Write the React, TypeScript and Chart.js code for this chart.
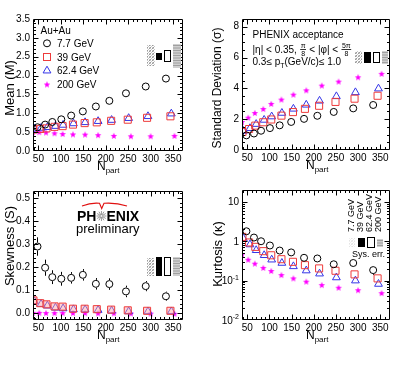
import React, { useEffect, useRef } from 'react';
import { Chart, registerables } from 'chart.js';
Chart.register(...registerables);

const W = 415;
const H = 370;
const FF = "'Liberation Sans', Arial, Helvetica, sans-serif";

// ---------- data ----------
const npart77 = [48, 65, 81, 101, 123, 149, 178, 208, 245, 289, 334];
const npart39 = [39, 54, 68, 86, 104, 127, 153, 180, 212, 249, 292, 344];
const npart62 = [41, 56, 70, 88, 105, 128, 154, 183, 213, 251, 294, 346];
const npart200 = [38, 52, 67, 86, 104, 127, 154, 183, 218, 256, 300, 353];

const mean77 = [0.63, 0.70, 0.77, 0.84, 0.94, 1.05, 1.18, 1.33, 1.53, 1.71, 1.92];
const mean39 = [0.57, 0.585, 0.60, 0.64, 0.66, 0.70, 0.74, 0.76, 0.80, 0.83, 0.88, 0.92];
const mean62 = [0.59, 0.61, 0.63, 0.66, 0.69, 0.73, 0.76, 0.79, 0.82, 0.87, 0.92, 0.99];
const mean200 = [0.50, 0.50, 0.49, 0.47, 0.45, 0.44, 0.435, 0.42, 0.40, 0.39, 0.39, 0.40];

const sd77 = [0.95, 1.07, 1.25, 1.42, 1.60, 1.82, 2.02, 2.22, 2.47, 2.70, 2.92];
const sd39 = [1.17, 1.36, 1.58, 1.80, 1.98, 2.23, 2.46, 2.67, 2.87, 3.12, 3.33, 3.52];
const sd62 = [1.23, 1.41, 1.68, 1.95, 2.17, 2.40, 2.67, 2.93, 3.19, 3.48, 3.74, 3.98];
const sd200 = [1.82, 2.10, 2.40, 2.66, 2.99, 3.27, 3.59, 3.87, 4.18, 4.44, 4.72, 4.94];

const skew77 = [0.289, 0.197, 0.156, 0.149, 0.153, 0.166, 0.127, 0.126, 0.094, 0.117, 0.073];
const skewErr77 = [0.04, 0.035, 0.03, 0.03, 0.025, 0.025, 0.025, 0.025, 0.025, 0.022, 0.02];
const skew39 = [0.055, 0.043, 0.038, 0.029, 0.028, 0.019, 0.019, 0.017, 0.015, 0.012, 0.010, 0.010];
const skew62 = [0.051, 0.039, 0.032, 0.023, 0.020, 0.016, 0.015, 0.013, 0.010, 0.007, 0.007, 0.007];
const skew200 = [0.001, 0.001, 0.0, 0.0, 0.0, 0.0, 0.0, -0.001, -0.001, -0.002, -0.002, -0.003];

const kurt77 = [1.79, 1.24, 1.0, 0.78, 0.58, 0.52, 0.38, 0.365, 0.26, 0.28, 0.185];
const kurtErr77 = [0, 0, 0, 0, 0, 0, 0, 0, 0.03, 0.05, 0.045];
const kurt39 = [1.29, 0.93, 0.72, 0.56, 0.44, 0.35, 0.30, 0.247, 0.204, 0.178, 0.144, 0.114];
const kurt62 = [1.17, 0.825, 0.59, 0.44, 0.34, 0.28, 0.23, 0.18, 0.15, 0.12, 0.10, 0.082];
const kurt200 = [0.46, 0.34, 0.27, 0.21, 0.175, 0.138, 0.114, 0.094, 0.077, 0.066, 0.057, 0.048];

const energyLabels = ['7.7 GeV', '39 GeV', '62.4 GeV', '200 GeV'];
const xTicks = [50, 100, 150, 200, 250, 300, 350];
const meanTicks = [0, 0.5, 1, 1.5, 2, 2.5, 3, 3.5];
const sdTicks = [0, 2, 4, 6, 8];
const skewTicks = [0, 0.1, 0.2, 0.3, 0.4, 0.5];
const kurtTicks = [0.01, 0.1, 1, 10];

// ---------- styles ----------
const RED = '#ee3b3b';
const BLUE = '#3535e8';
const MAG = '#ff00ff';

function makeStar(): HTMLCanvasElement {
  const c = document.createElement('canvas');
  c.width = 8; c.height = 8;
  const g = c.getContext('2d')!;
  g.fillStyle = MAG;
  g.beginPath();
  for (let i = 0; i < 10; i++) {
    const r = i % 2 === 0 ? 3.4 : 1.45;
    const a = -Math.PI / 2 + (i * Math.PI) / 5;
    const px = 4 + r * Math.cos(a);
    const py = 4.2 + r * Math.sin(a);
    if (i === 0) g.moveTo(px, py); else g.lineTo(px, py);
  }
  g.closePath();
  g.fill();
  return c;
}
const STAR = makeStar();

const styleCircle = { pointStyle: 'circle', pointRadius: 3.5, borderColor: '#000', backgroundColor: 'rgba(0,0,0,0)', borderWidth: 1 };
const styleSquare = { pointStyle: 'rect', pointRadius: 5, borderColor: RED, backgroundColor: 'rgba(0,0,0,0)', borderWidth: 1 };
const styleTri = { pointStyle: 'triangle', pointRadius: 4.5, borderColor: BLUE, backgroundColor: 'rgba(0,0,0,0)', borderWidth: 1 };
const styleStar = { pointStyle: STAR, pointRadius: 4, borderColor: MAG, backgroundColor: MAG, borderWidth: 0 };

function ds(label: string, xs: number[], ys: number[], style: any, errs?: number[]) {
  return {
    label,
    data: xs.map((x, i) => ({ x, y: ys[i] })),
    showLine: false,
    errs,
    ...style,
  };
}

// ---------- drawing helpers ----------
function txt(ctx: CanvasRenderingContext2D, s: string, x: number, y: number, size: number, o: any = {}) {
  ctx.font = `${o.bold ? 'bold ' : ''}${size}px ${FF}`;
  ctx.fillStyle = o.color || '#000';
  ctx.textAlign = o.align || 'left';
  ctx.textBaseline = o.baseline || 'alphabetic';
  ctx.fillText(s, x, y);
  return ctx.measureText(s).width;
}

function vtitle(ctx: CanvasRenderingContext2D, s: string, cx: number, cy: number, size: number) {
  ctx.save();
  ctx.translate(cx, cy);
  ctx.rotate(-Math.PI / 2);
  ctx.font = `${size}px ${FF}`;
  ctx.textAlign = 'center';
  ctx.textBaseline = 'middle';
  ctx.fillStyle = '#000';
  ctx.fillText(s, 0, 0);
  ctx.restore();
}

function npartTitle(ctx: CanvasRenderingContext2D, left: number, bottom: number) {
  const x = left + 64;
  const b = bottom + 19;
  const w = txt(ctx, 'N', x, b, 12);
  txt(ctx, 'part', x + w, b + 3, 8);
}

function frac(ctx: CanvasRenderingContext2D, num: string, den: string, x: number, yMid: number, size: number) {
  ctx.font = `${size}px ${FF}`;
  const wn = ctx.measureText(num).width;
  const wd = ctx.measureText(den).width;
  const w = Math.max(wn, wd) + 2;
  txt(ctx, num, x + w / 2, yMid - 1.5, size, { align: 'center' });
  txt(ctx, den, x + w / 2, yMid + 6.5, size, { align: 'center' });
  ctx.save();
  ctx.strokeStyle = '#000';
  ctx.lineWidth = 0.8;
  ctx.beginPath();
  ctx.moveTo(x + 0.5, yMid);
  ctx.lineTo(x + w - 0.5, yMid);
  ctx.stroke();
  ctx.restore();
  return w;
}

function sysBox(ctx: CanvasRenderingContext2D, kind: string, x: number, y: number, w: number, h: number) {
  ctx.save();
  if (kind === 'hatch' || kind === 'faint') {
    ctx.beginPath();
    ctx.rect(x, y, w, h);
    ctx.clip();
    ctx.strokeStyle = kind === 'hatch' ? '#9a9a9a' : '#e4e4e4';
    ctx.lineWidth = 1;
    ctx.beginPath();
    for (let k = -h; k < w + h; k += 3) {
      ctx.moveTo(x + k, y + h);
      ctx.lineTo(x + k + h, y);
    }
    ctx.stroke();
    ctx.strokeStyle = kind === 'hatch' ? '#c8c8c8' : '#efefef';
    ctx.beginPath();
    for (let k = -h; k < w + h; k += 3) {
      ctx.moveTo(x + k, y);
      ctx.lineTo(x + k + h, y + h);
    }
    ctx.stroke();
  } else if (kind === 'black') {
    ctx.fillStyle = '#000';
    ctx.fillRect(x, y, w, h);
  } else if (kind === 'open') {
    ctx.strokeStyle = '#000';
    ctx.lineWidth = 1;
    ctx.strokeRect(x + 0.5, y + 0.5, w - 1, h - 1);
  } else if (kind === 'gray') {
    ctx.fillStyle = '#cfcfcf';
    ctx.fillRect(x, y, w, h);
    ctx.strokeStyle = '#a0a0a0';
    ctx.lineWidth = 1;
    ctx.beginPath();
    for (let yy = y + 1.5; yy < y + h; yy += 2.5) {
      ctx.moveTo(x, yy);
      ctx.lineTo(x + w, yy);
    }
    ctx.stroke();
  }
  ctx.restore();
}

function symbol(ctx: CanvasRenderingContext2D, kind: string, x: number, y: number) {
  ctx.save();
  ctx.lineWidth = 1;
  if (kind === 'circle') {
    ctx.strokeStyle = '#000';
    ctx.beginPath();
    ctx.arc(x, y, 3.5, 0, Math.PI * 2);
    ctx.stroke();
  } else if (kind === 'square') {
    ctx.strokeStyle = RED;
    ctx.strokeRect(x - 3.5, y - 3.5, 7, 7);
  } else if (kind === 'triangle') {
    const r = 4.5;
    ctx.strokeStyle = BLUE;
    ctx.beginPath();
    ctx.moveTo(x, y - r);
    ctx.lineTo(x + r * 0.866, y + r * 0.5);
    ctx.lineTo(x - r * 0.866, y + r * 0.5);
    ctx.closePath();
    ctx.stroke();
  } else {
    ctx.drawImage(STAR, x - STAR.width / 2, y - STAR.height / 2);
  }
  ctx.restore();
}

function powLabel(ctx: CanvasRenderingContext2D, base: string, exp: string, right: number, yMid: number) {
  ctx.font = `7px ${FF}`;
  const we = exp ? ctx.measureText(exp).width : 0;
  ctx.font = `10px ${FF}`;
  const wb = ctx.measureText(base).width;
  const x0 = right - we - wb;
  txt(ctx, base, x0, yMid + 3.5, 10);
  if (exp) txt(ctx, exp, x0 + wb, yMid - 1, 7);
}

// ---------- axis frame plugin ----------
function makePlugin(spec: any) {
  return {
    id: 'rootFrame',
    afterDatasetsDraw(chart: any) {
      const ctx = chart.ctx;
      const ys = chart.scales.y;
      chart.data.datasets.forEach((d: any, i: number) => {
        if (!d.errs) return;
        const meta = chart.getDatasetMeta(i);
        ctx.save();
        ctx.strokeStyle = '#000';
        ctx.lineWidth = 1;
        meta.data.forEach((el: any, j: number) => {
          const e = d.errs[j];
          if (!e) return;
          const v = d.data[j].y;
          const yt = ys.getPixelForValue(v + e);
          const yb = ys.getPixelForValue(v - e);
          const px = Math.round(el.x) + 0.5;
          ctx.beginPath();
          if (yt < el.y - 4) { ctx.moveTo(px, yt); ctx.lineTo(px, el.y - 4); }
          if (yb > el.y + 4) { ctx.moveTo(px, el.y + 4); ctx.lineTo(px, yb); }
          ctx.stroke();
        });
        ctx.restore();
      });
    },
    afterDraw(chart: any) {
      const { ctx, chartArea: a } = chart;
      const xs = chart.scales.x;
      const ys = chart.scales.y;
      const L = Math.round(a.left) + 0.5;
      const R = Math.round(a.right) - 0.5;
      const T = Math.round(a.top) + 0.5;
      const B = Math.round(a.bottom) - 0.5;
      ctx.save();
      ctx.strokeStyle = '#000';
      ctx.lineWidth = 1;
      ctx.beginPath();
      ctx.rect(L, T, R - L, B - T);
      const xm: [number, number][] = [];
      xTicks.forEach((v) => xm.push([v, 5]));
      for (let v = 40; v <= 370; v += 10) if (v % 50) xm.push([v, 2.5]);
      xm.forEach(([v, len]) => {
        const p = Math.round(xs.getPixelForValue(v)) + 0.5;
        if (p <= L || p >= R) return;
        ctx.moveTo(p, B); ctx.lineTo(p, B - len);
        ctx.moveTo(p, T); ctx.lineTo(p, T + len);
      });
      spec.yMarks.forEach(([v, len]: [number, number]) => {
        const p = Math.round(ys.getPixelForValue(v)) + 0.5;
        if (p <= T || p >= B) return;
        ctx.moveTo(L, p); ctx.lineTo(L + len, p);
        ctx.moveTo(R, p); ctx.lineTo(R - len, p);
      });
      ctx.stroke();
      ctx.restore();
      spec.extras(ctx, chart);
    },
  };
}

function linMarks(majors: number[], minorStep: number, lo: number, hi: number) {
  const out: [number, number][] = majors.map((v) => [v, 5] as [number, number]);
  const n = Math.round((hi - lo) / minorStep);
  for (let i = 0; i <= n; i++) {
    const v = lo + i * minorStep;
    if (!majors.some((m) => Math.abs(m - v) < 1e-9)) out.push([v, 2.5]);
  }
  return out;
}

function logMarks() {
  const out: [number, number][] = kurtTicks.map((v) => [v, 5] as [number, number]);
  [0.01, 0.1, 1, 10].forEach((d) => {
    for (let k = 2; k <= 9; k++) out.push([d * k, 2.5]);
  });
  return out;
}

// ---------- panel specs ----------
const X_MIN = 38;
const X_MAX = 372;

const panels: any[] = [
  {
    area: { left: 33, top: 19, right: 183, bottom: 151 },
    padLeft: 0,
    y: { type: 'linear', min: 0, max: 3.5 },
    yTicks: meanTicks,
    yFmt: (v: number) => v.toFixed(1),
    yMarks: linMarks(meanTicks, 0.1, 0, 3.5),
    datasets: [
      ds(energyLabels[0], npart77, mean77, styleCircle),
      ds(energyLabels[1], npart39, mean39, styleSquare),
      ds(energyLabels[2], npart62, mean62, styleTri),
      ds(energyLabels[3], npart200, mean200, styleStar),
    ],
    extras: (ctx: CanvasRenderingContext2D) => {
      vtitle(ctx, 'Mean (M)', 10, 88, 13);
      npartTitle(ctx, 33, 151);
      txt(ctx, 'Au+Au', 40.5, 33.5, 10);
      const kinds = ['circle', 'square', 'triangle', 'star'];
      const yy = [43.3, 57, 70.7, 84.5];
      kinds.forEach((k, i) => {
        symbol(ctx, k, 47, yy[i]);
        txt(ctx, energyLabels[i], 57, yy[i] + 3.6, 10);
      });
      sysBox(ctx, 'hatch', 147, 45, 8, 21);
      sysBox(ctx, 'black', 156, 53, 6, 7);
      sysBox(ctx, 'open', 164, 50, 7, 12);
      sysBox(ctx, 'gray', 173, 44, 8, 24);
    },
  },
  {
    area: { left: 242, top: 19, right: 390, bottom: 150 },
    padLeft: 200,
    y: { type: 'linear', min: 0, max: 8.5 },
    yTicks: sdTicks,
    yFmt: (v: number) => String(v),
    yMarks: linMarks(sdTicks, 0.5, 0, 8.5),
    datasets: [
      ds(energyLabels[0], npart77, sd77, styleCircle),
      ds(energyLabels[1], npart39, sd39, styleSquare),
      ds(energyLabels[2], npart62, sd62, styleTri),
      ds(energyLabels[3], npart200, sd200, styleStar),
    ],
    extras: (ctx: CanvasRenderingContext2D) => {
      vtitle(ctx, 'Standard Deviation (\u03C3)', 218, 88, 12);
      npartTitle(ctx, 242, 150);
      txt(ctx, 'PHENIX acceptance', 252.5, 38, 10);
      let cx = 252.5;
      const b2 = 53;
      cx += txt(ctx, '|\u03B7| < 0.35, ', cx, b2, 10);
      cx += frac(ctx, '\u03C0', '8', cx, b2 - 3.5, 7);
      cx += txt(ctx, ' < |\u03C6| < ', cx, b2, 10);
      cx += frac(ctx, '5\u03C0', '8', cx, b2 - 3.5, 7);
      cx = 252.5;
      const b3 = 65;
      cx += txt(ctx, '0.3\u2264 p', cx, b3, 10);
      cx += txt(ctx, 'T', cx, b3 + 3, 7);
      txt(ctx, '(GeV/c)\u2264 1.0', cx, b3, 10);
      sysBox(ctx, 'hatch', 355, 51, 7, 13);
      sysBox(ctx, 'black', 364, 52, 7, 11);
      sysBox(ctx, 'open', 373, 52, 7, 11);
      sysBox(ctx, 'gray', 382, 51, 6, 13);
    },
  },
  {
    area: { left: 33, top: 191, right: 183, bottom: 320 },
    padLeft: 0,
    y: { type: 'linear', min: -0.03, max: 0.53 },
    yTicks: skewTicks,
    yFmt: (v: number) => v.toFixed(1),
    yMarks: linMarks(skewTicks, 0.02, -0.02, 0.52),
    datasets: [
      ds(energyLabels[0], npart77, skew77, styleCircle, skewErr77),
      ds(energyLabels[1], npart39, skew39, { ...styleSquare, backgroundColor: 'rgba(255,160,160,0.45)' }),
      ds(energyLabels[2], npart62, skew62, styleTri),
      ds(energyLabels[3], npart200, skew200, styleStar),
    ],
    extras: (ctx: CanvasRenderingContext2D) => {
      vtitle(ctx, 'Skewness (S)', 10, 246, 13);
      npartTitle(ctx, 33, 320);
      // PHENIX logo swoosh
      ctx.save();
      ctx.strokeStyle = '#e01010';
      ctx.lineWidth = 1.1;
      ctx.beginPath();
      ctx.moveTo(82, 206);
      ctx.quadraticCurveTo(91, 202.5, 99.5, 203.3);
      ctx.lineTo(101.7, 208.5);
      ctx.lineTo(104, 203.3);
      ctx.quadraticCurveTo(116, 202.5, 127, 206);
      ctx.stroke();
      ctx.restore();
      let x = 77;
      x += txt(ctx, 'PH', x, 221, 14, { bold: true });
      const sx = x + 5;
      const sy = 216;
      ctx.save();
      ctx.strokeStyle = '#808080';
      ctx.lineWidth = 0.8;
      ctx.beginPath();
      for (let i = 0; i < 12; i++) {
        const a = (i * Math.PI) / 6;
        ctx.moveTo(sx + 1 * Math.cos(a), sy + 1 * Math.sin(a));
        ctx.lineTo(sx + 5 * Math.cos(a), sy + 5 * Math.sin(a));
      }
      ctx.stroke();
      ctx.restore();
      x += 10;
      txt(ctx, 'ENIX', x, 221, 14, { bold: true });
      txt(ctx, 'preliminary', 76, 233, 13);
      sysBox(ctx, 'hatch', 147, 258, 7, 18);
      sysBox(ctx, 'black', 156, 257, 6, 19);
      sysBox(ctx, 'open', 164, 257, 7, 19);
      sysBox(ctx, 'gray', 173, 257, 7, 19);
    },
  },
  {
    area: { left: 242, top: 190, right: 390, bottom: 320 },
    padLeft: 200,
    y: { type: 'logarithmic', min: 0.01, max: 20 },
    yTicks: kurtTicks,
    yFmt: () => '',
    yHide: true,
    yMarks: logMarks(),
    datasets: [
      ds(energyLabels[0], npart77, kurt77, styleCircle, kurtErr77),
      ds(energyLabels[1], npart39, kurt39, styleSquare),
      ds(energyLabels[2], npart62, kurt62, styleTri),
      ds(energyLabels[3], npart200, kurt200, styleStar),
    ],
    extras: (ctx: CanvasRenderingContext2D, chart: any) => {
      vtitle(ctx, 'Kurtosis (\u03BA)', 218, 254, 13);
      npartTitle(ctx, 242, 320);
      const ys = chart.scales.y;
      powLabel(ctx, '10', '', 239, ys.getPixelForValue(10));
      powLabel(ctx, '1', '', 239, ys.getPixelForValue(1));
      powLabel(ctx, '10', '-1', 239, ys.getPixelForValue(0.1));
      powLabel(ctx, '10', '-2', 239, ys.getPixelForValue(0.01));
      const lx = [352, 361, 369.5, 378.5];
      energyLabels.forEach((s, i) => {
        ctx.save();
        ctx.translate(lx[i], 232);
        ctx.rotate(-Math.PI / 2);
        ctx.font = `9px ${FF}`;
        ctx.fillStyle = '#000';
        ctx.textAlign = 'left';
        ctx.textBaseline = 'middle';
        ctx.fillText(s, 0, 0);
        ctx.restore();
      });
      sysBox(ctx, 'faint', 349, 238, 6, 9);
      sysBox(ctx, 'black', 358, 238, 7, 9);
      sysBox(ctx, 'open', 367, 237, 8, 11);
      sysBox(ctx, 'gray', 377, 239, 6, 8);
      txt(ctx, 'Sys. err.', 352, 257, 9);
    },
  },
];

function Panel({ spec }: { spec: any }) {
  const ref = useRef<HTMLCanvasElement | null>(null);
  useEffect(() => {
    if (!ref.current) return;
    const a = spec.area;
    const chart = new Chart(ref.current, {
      type: 'scatter',
      data: { datasets: spec.datasets },
      options: {
        animation: false,
        responsive: false,
        devicePixelRatio: 1,
        layout: { padding: { left: spec.padLeft, top: a.top, right: W - a.right, bottom: 0 } },
        plugins: { legend: { display: false }, tooltip: { enabled: false } },
        scales: {
          x: {
            type: 'linear',
            min: X_MIN,
            max: X_MAX,
            grid: { display: false, drawTicks: false },
            border: { display: false },
            ticks: { font: { family: FF, size: 10 }, color: '#000', padding: 2, maxRotation: 0, autoSkip: false, callback: (v: any) => String(v) },
            afterBuildTicks: (s: any) => { s.ticks = xTicks.map((v) => ({ value: v })); },
            afterFit: (s: any) => { s.height = H - a.bottom; },
          },
          y: {
            ...spec.y,
            grid: { display: false, drawTicks: false },
            border: { display: false },
            ticks: { display: !spec.yHide, font: { family: FF, size: 10 }, color: '#000', padding: 3, autoSkip: false, callback: (v: any) => spec.yFmt(Number(v)) },
            afterBuildTicks: (s: any) => { s.ticks = spec.yTicks.map((v: number) => ({ value: v })); },
            afterFit: (s: any) => { s.width = a.left - spec.padLeft; },
          },
        },
      } as any,
      plugins: [makePlugin(spec)],
    });
    return () => chart.destroy();
  }, [spec]);
  return (
    <canvas
      ref={ref}
      width={W}
      height={H}
      style={{ position: 'absolute', left: 0, top: 0, width: W, height: H }}
    />
  );
}

export default function App() {
  return (
    <div style={{ position: 'absolute', left: 0, top: 0, width: W, height: H, background: '#fff', overflow: 'hidden' }}>
      {panels.map((p, i) => (
        <Panel key={i} spec={p} />
      ))}
    </div>
  );
}
